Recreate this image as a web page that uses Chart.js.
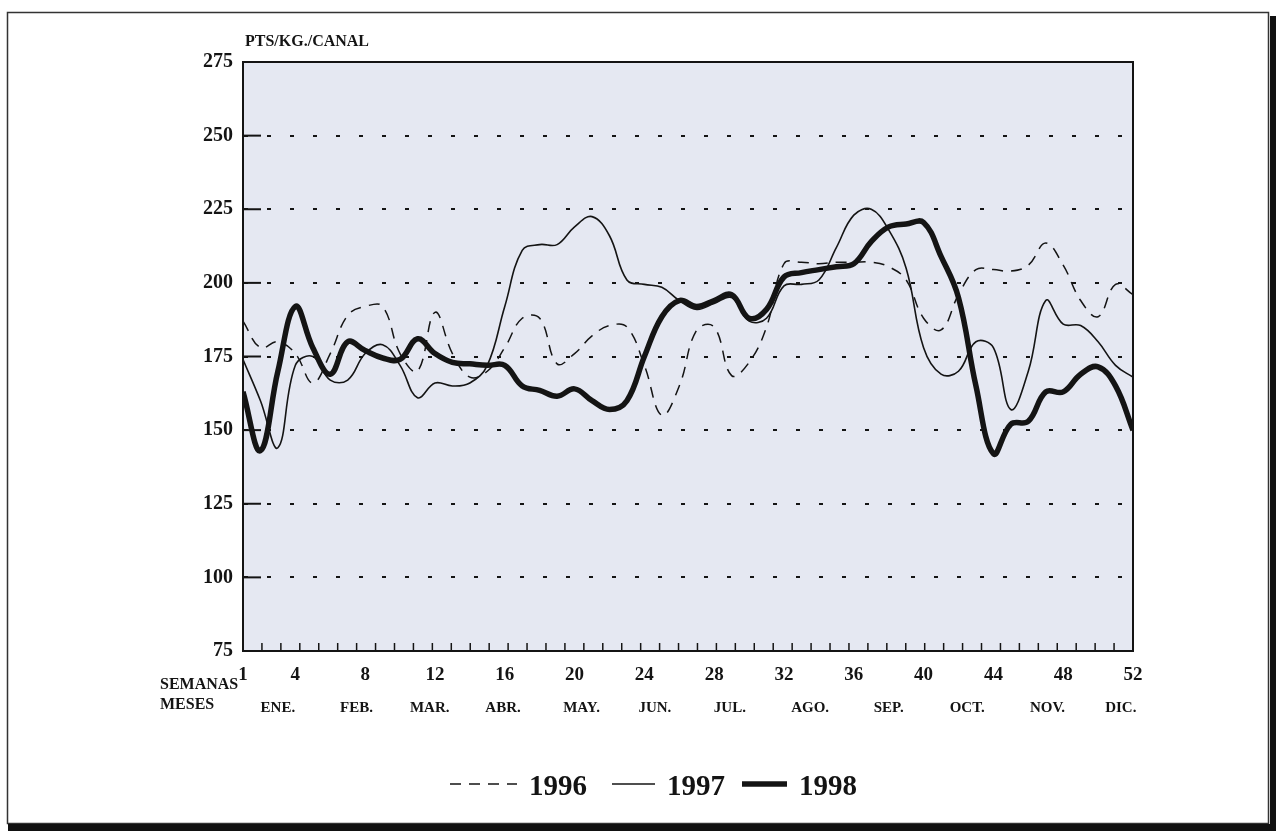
<!DOCTYPE html>
<html>
<head>
<meta charset="utf-8">
<script src="https://cdn.jsdelivr.net/npm/chart.js@4.4.1/dist/chart.umd.min.js"></script>
<style>
  html, body { margin: 0; padding: 0; background: #fff; }
</style>
</head>
<body>
<canvas id="myChart" width="1276" height="831"></canvas>
<script>
// weeks 1..52
let weeks = [];
for (let i = 1; i <= 52; i++) weeks.push(i);

let weekTicks = [1, 4, 8, 12, 16, 20, 24, 28, 32, 36, 40, 44, 48, 52];
let monthNames = ['ENE.', 'FEB.', 'MAR.', 'ABR.', 'MAY.', 'JUN.', 'JUL.', 'AGO.', 'SEP.', 'OCT.', 'NOV.', 'DIC.'];
let monthWeeks = [3, 7.5, 11.7, 15.9, 20.4, 24.6, 28.9, 33.5, 38, 42.5, 47.1, 51.3];
let yTicks = [75, 100, 125, 150, 175, 200, 225, 250, 275];

let years = ['1996', '1997', '1998'];

let price1996 = [187, 178, 180, 176, 166, 176, 189, 192, 192, 176,
                 170, 190, 176, 168, 170, 178, 188, 188, 172.5, 176,
                 182, 185.5, 185, 172, 155, 165, 184, 185, 168.5, 173,
                 185, 206.5, 207, 206.5, 207, 207, 207, 205.5, 201, 188,
                 184, 196, 204.5, 204.5, 204, 206, 213.5, 206, 194, 188.5,
                 199.5, 196];

let price1997 = [174, 160, 144, 172, 175, 167, 167, 176, 179, 172,
                 161, 166, 165, 166, 172, 192, 211, 213, 213, 219,
                 222.5, 216, 201, 199.5, 198.5, 194, 191, 193, 195, 187,
                 188, 199, 199.5, 201, 212, 223, 225, 218, 205, 178,
                 169, 170, 180, 178, 157, 170, 194, 186, 185.5, 180,
                 172, 168];

let price1998 = [163, 143, 170, 192, 178, 169, 180, 177, 174.5, 174,
                 181, 176, 173, 172.5, 172, 172, 165, 163.5, 161.5, 164,
                 160, 157, 160, 175, 188.5, 194, 192, 194, 196, 188,
                 191, 202, 203.5, 204.5, 205.5, 206.5, 214, 219, 220, 220.5,
                 209, 195, 165, 142, 152, 153, 163, 163, 169, 171.5,
                 165, 150];

function toPoints(arr) {
  return weeks.map((w, i) => ({ x: w, y: arr[i] }));
}

const serif = '"Liberation Serif", "Times New Roman", serif';
const ink = '#141414';

// background, frame, inward ticks, texts and the legend
const decor = {
  id: 'decor',
  beforeDraw(chart) {
    const c = chart.ctx, a = chart.chartArea;
    c.save();
    c.fillStyle = '#fff';
    c.fillRect(0, 0, chart.width, chart.height);
    c.fillStyle = '#e5e8f2';
    c.fillRect(a.left, a.top, a.right - a.left, a.bottom - a.top);
    // page frame with its shadow
    c.strokeStyle = '#333';
    c.lineWidth = 1.5;
    c.strokeRect(7.5, 12.5, 1261, 811);
    c.fillStyle = '#111';
    c.fillRect(1270, 16, 6, 815);
    c.fillRect(8, 824, 1268, 7);
    c.restore();
  },
  afterDatasetsDraw(chart) {
    const c = chart.ctx, a = chart.chartArea;
    const xs = chart.scales.x, ys = chart.scales.y;
    c.save();
    c.strokeStyle = ink;
    // stubs at the y ticks
    c.lineWidth = 2;
    yTicks.forEach(v => {
      const py = ys.getPixelForValue(v);
      c.beginPath();
      c.moveTo(a.left, py); c.lineTo(a.left + 18, py);
      c.stroke();
    });
    // small ticks along the bottom
    c.lineWidth = 1.5;
    for (let i = 1; i < 47; i++) {
      const px = xs.getPixelForValue(1 + i * 51 / 47);
      c.beginPath();
      c.moveTo(px, a.bottom); c.lineTo(px, a.bottom - 8);
      c.stroke();
    }
    // plot frame
    c.lineWidth = 2;
    c.strokeRect(a.left, a.top, a.right - a.left, a.bottom - a.top);

    c.fillStyle = ink;
    c.textBaseline = 'alphabetic';
    c.textAlign = 'left';
    c.font = 'bold 16px ' + serif;
    c.fillText('PTS/KG./CANAL', a.left + 2, 46);
    c.font = 'bold 16px ' + serif;
    c.fillText('SEMANAS', 160, 689);
    c.fillText('MESES', 160, 709);

    // legend
    const starts = [450, 612, 742];
    const lens = [67, 43, 45];
    c.font = 'bold 29px ' + serif;
    chart.data.datasets.forEach((ds, i) => {
      c.beginPath();
      c.lineWidth = ds.borderWidth;
      c.setLineDash(ds.borderDash || []);
      c.moveTo(starts[i], 784); c.lineTo(starts[i] + lens[i], 784);
      c.stroke();
      c.setLineDash([]);
      c.fillText(ds.label, starts[i] + lens[i] + 12, 795);
    });
    c.restore();
  }
};

let ctx = document.getElementById('myChart').getContext('2d');
let myChart = new Chart(ctx, {
  type: 'line',
  data: {
    datasets: [{
      label: years[0],
      data: toPoints(price1996),
      borderColor: ink,
      borderWidth: 1.5,
      borderDash: [11, 8],
      pointRadius: 0,
      tension: 0.4,
      fill: false
    }, {
      label: years[1],
      data: toPoints(price1997),
      borderColor: ink,
      borderWidth: 1.6,
      pointRadius: 0,
      tension: 0.4,
      fill: false
    }, {
      label: years[2],
      data: toPoints(price1998),
      borderColor: ink,
      borderWidth: 5.5,
      pointRadius: 0,
      tension: 0.4,
      fill: false
    }]
  },
  options: {
    responsive: false,
    animation: false,
    devicePixelRatio: 1,
    layout: { padding: { left: 10, top: 62, right: 143, bottom: 108 } },
    plugins: {
      legend: { display: false },
      title: { display: false },
      tooltip: { enabled: false }
    },
    scales: {
      x: {
        type: 'linear',
        position: 'bottom',
        min: 1, max: 52,
        afterBuildTicks: s => { s.ticks = weekTicks.map(v => ({ value: v })); },
        afterFit: s => { s.height = 42; },
        ticks: {
          autoSkip: false, maxRotation: 0, padding: 13,
          color: ink,
          font: { family: serif, size: 19, weight: 'bold' }
        },
        grid: { display: false, drawTicks: false },
        border: { display: false }
      },
      xm: {
        type: 'linear',
        position: 'bottom',
        min: 1, max: 52,
        afterBuildTicks: s => { s.ticks = monthWeeks.map(v => ({ value: v })); },
        afterFit: s => { s.height = 30; },
        ticks: {
          autoSkip: false, maxRotation: 0, padding: 6,
          color: ink,
          font: { family: serif, size: 15, weight: 'bold' },
          callback: (v, i) => monthNames[i]
        },
        grid: { display: false, drawTicks: false },
        border: { display: false }
      },
      y: {
        min: 75, max: 275,
        afterBuildTicks: s => { s.ticks = yTicks.map(v => ({ value: v })); },
        afterFit: s => { s.width = 233; },
        ticks: {
          padding: 10,
          color: ink,
          font: { family: serif, size: 20, weight: 'bold' }
        },
        grid: {
          drawTicks: false,
          lineWidth: 2,
          color: c => (c.tick && (c.tick.value === 75 || c.tick.value === 275)) ? 'rgba(0,0,0,0)' : ink
        },
        border: { display: false, dash: [4, 19], dashOffset: -24 }
      }
    }
  },
  plugins: [decor]
});
</script>
</body>
</html>
